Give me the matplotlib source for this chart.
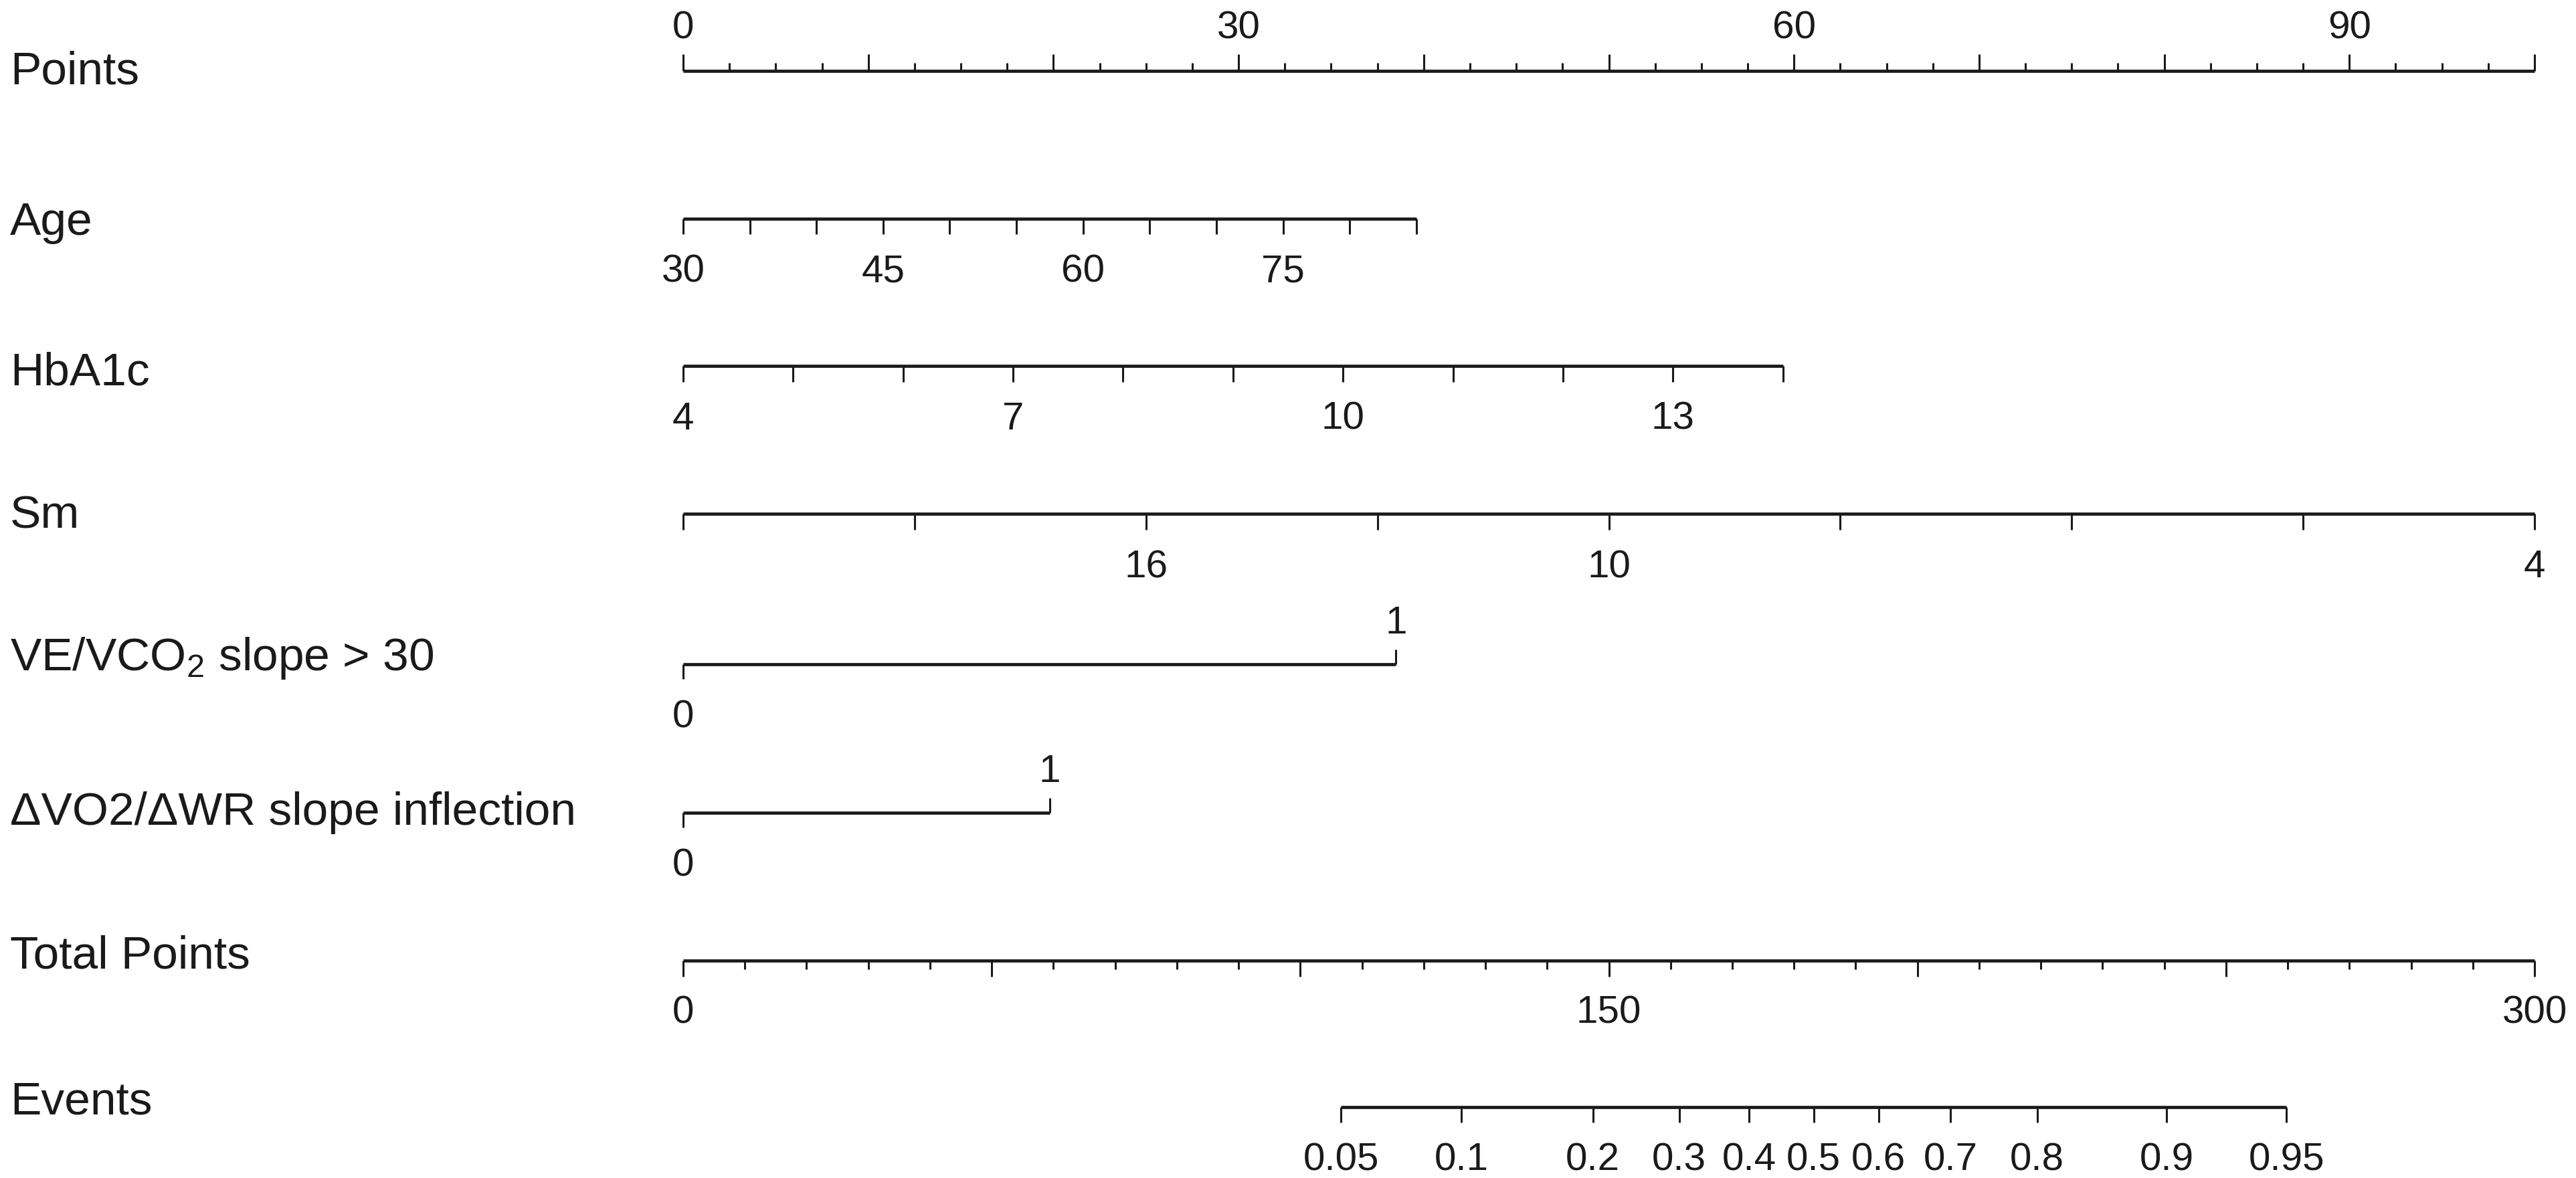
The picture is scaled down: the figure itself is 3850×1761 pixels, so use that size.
import matplotlib
matplotlib.use("Agg")
import matplotlib.pyplot as plt

plt.rcParams["font.family"] = ["Liberation Sans", "DejaVu Sans"]
plt.rcParams["mathtext.default"] = "regular"

# ---- nomogram values ----
names = ["Points", "Age", "HbA1c", "Sm", "VE/VCO$_2$ slope > 30",
         "\u0394VO2/\u0394WR slope inflection", "Total Points", "Events"]

points_major = [0, 10, 20, 30, 40, 50, 60, 70, 80, 90, 100]
points_minor_step = 2.5
points_labels = {0: "0", 30: "30", 60: "60", 90: "90"}

age_vals = [30, 35, 40, 45, 50, 55, 60, 65, 70, 75, 80, 85]
age_labels = ["30", "", "", "45", "", "", "60", "", "", "75", "", ""]
age_pts_max = 39.6          # points at age 85

hba1c_vals = [4, 5, 6, 7, 8, 9, 10, 11, 12, 13, 14]
hba1c_labels = ["4", "", "", "7", "", "", "10", "", "", "13", ""]
hba1c_pts_max = 59.4        # points at HbA1c 14

sm_pts = [0, 12.5, 25, 37.5, 50, 62.5, 75, 87.5, 100]
sm_labels = ["", "", "16", "", "10", "", "", "", "4"]

ve_pts = [0, 38.5]          # 0 / 1
dvo2_pts = [0, 19.8]        # 0 / 1

total_major = [0, 50, 100, 150, 200, 250, 300]
total_minor = [10, 20, 30, 40, 60, 70, 80, 90, 110, 120, 130, 140, 160, 170, 180, 190,
               210, 220, 230, 240, 260, 270, 280, 290]
total_labels = {0: "0", 150: "150", 300: "300"}

event_probs = ["0.05", "0.1", "0.2", "0.3", "0.4", "0.5", "0.6", "0.7", "0.8", "0.9", "0.95"]
event_total = [106.6, 126.1, 147.4, 161.4, 172.7, 183.2, 193.7, 205.4, 219.4, 240.4, 259.8]

# ---- layout (pixels) ----
W, H = 3850, 1761
X0, X1 = 1021, 3788                  # 0 and 100 points
ppx = (X1 - X0) / 100.0
def px(x): return (x - X0) / ppx     # pixel -> points units
def tp(v): return v * 100.0 / 300.0  # total points -> points units

row_y = [106, 327, 547, 768, 993, 1215, 1436, 1655]
name_base = [126, 351, 576, 789, 1002, 1233, 1448, 1665]

C = "#1a1a1a"
LW, TW = 3.4, 2.2
FS_NAME, FS_TICK = 50, 42

fig = plt.figure(figsize=(W / 100, H / 100), dpi=100)
ax = fig.add_axes([0, 0, 1, 1])
ax.set_xlim(px(0), px(W))
ax.set_ylim(H, 0)
ax.axis("off")

def hline(x0, x1, y):
    ax.plot([x0, x1], [y, y], color=C, lw=LW, solid_capstyle="butt")

def tick(x, y, length):
    ax.plot([x, x], [y, y + length], color=C, lw=TW, solid_capstyle="butt")

def lab(x, base, s):
    ax.text(x, base, s, ha="center", va="baseline", fontsize=FS_TICK, color=C)

for n, b in zip(names, name_base):
    ax.text(px(15), b, n, ha="left", va="baseline", fontsize=FS_NAME, color=C)

# Points
y = row_y[0]
hline(points_major[0], points_major[-1], y)
for v in points_major:
    tick(v, y, -25)
for m in points_major[:-1]:
    for k in (1, 2, 3):
        tick(m + k * points_minor_step, y, -12)
for v, s in points_labels.items():
    lab(v, 57, s)

# Age
y = row_y[1]
age_x = [(a - age_vals[0]) / (age_vals[-1] - age_vals[0]) * age_pts_max for a in age_vals]
hline(age_x[0], age_x[-1], y)
for xv, s in zip(age_x, age_labels):
    tick(xv, y, 23)
    if s:
        lab(xv, 422, s)

# HbA1c
y = row_y[2]
hb_x = [(h - hba1c_vals[0]) / (hba1c_vals[-1] - hba1c_vals[0]) * hba1c_pts_max for h in hba1c_vals]
hline(hb_x[0], hb_x[-1], y)
for xv, s in zip(hb_x, hba1c_labels):
    tick(xv, y, 24)
    if s:
        lab(xv, 642, s)

# Sm
y = row_y[3]
hline(sm_pts[0], sm_pts[-1], y)
for xv, s in zip(sm_pts, sm_labels):
    tick(xv, y, 24)
    if s:
        lab(xv, 863, s)

# binary predictors
for y, pts, b1, b0 in [(row_y[4], ve_pts, 947, 1087), (row_y[5], dvo2_pts, 1169, 1309)]:
    hline(pts[0], pts[1], y)
    tick(pts[0], y, 22)
    tick(pts[1], y, -22)
    lab(pts[0], b0, "0")
    lab(pts[1], b1, "1")

# Total Points
y = row_y[6]
hline(tp(total_major[0]), tp(total_major[-1]), y)
for v in total_major:
    tick(tp(v), y, 24)
for v in total_minor:
    tick(tp(v), y, 13)
for v, s in total_labels.items():
    lab(tp(v), 1530, s)

# Events
y = row_y[7]
hline(tp(event_total[0]), tp(event_total[-1]), y)
for v, s in zip(event_total, event_probs):
    tick(tp(v), y, 23)
    lab(tp(v), 1750, s)

fig.savefig("out.png", dpi=100, facecolor="white")
